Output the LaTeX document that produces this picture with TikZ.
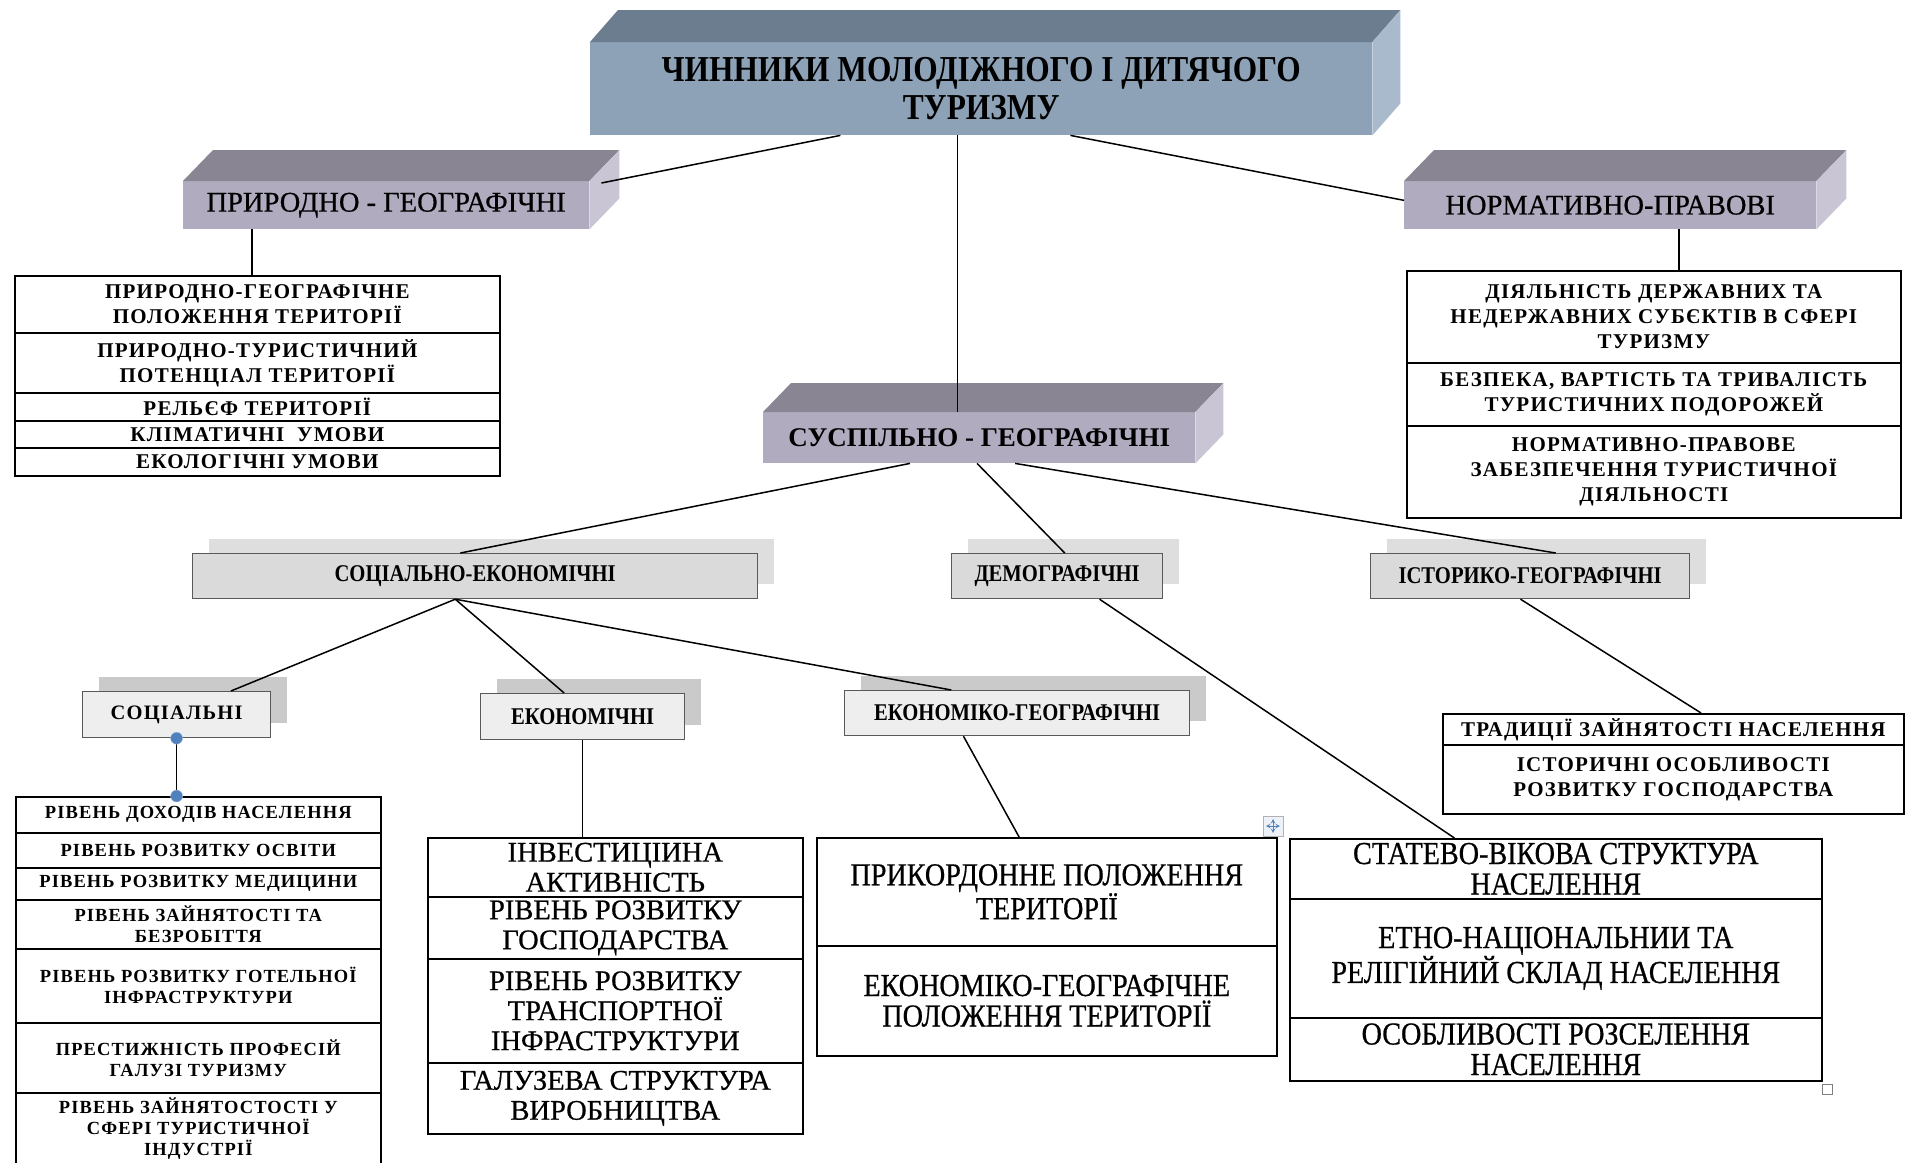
\documentclass[tikz,border=0pt]{standalone}
\usepackage{fontspec}
\setmainfont{Liberation Serif}
\newfontfamily\narrowserif[FakeStretch=0.86]{Liberation Serif}
\newfontfamily\tallserif[FakeStretch=0.88,FakeBold=0.6]{Liberation Serif}
\newfontfamily\heavyserif[FakeBold=0.6]{Liberation Serif}
\newfontfamily\spacedserif[LetterSpace=6]{Liberation Serif}
\usetikzlibrary{calc,positioning,shadows}

\definecolor{titlefront}{HTML}{8DA1B7}
\definecolor{titletop}{HTML}{6C7D90}
\definecolor{titleside}{HTML}{A9BACD}
\definecolor{barfront}{HTML}{B0ABBF}
\definecolor{bartop}{HTML}{8A8592}
\definecolor{barside}{HTML}{C9C5D5}
\definecolor{tabfill}{HTML}{DADADA}
\definecolor{tabshade}{HTML}{DEDEDE}
\definecolor{subfill}{HTML}{EEEEEE}
\definecolor{subshade}{HTML}{CACACA}
\definecolor{handle}{HTML}{4F81BD}

\newcommand{\titlefont}{\narrowserif\bfseries\fontsize{36.5}{38}\selectfont}
\newcommand{\barfont}{\heavyserif\fontsize{28.5}{30}\selectfont}
\newcommand{\tabfont}{\narrowserif\bfseries\fontsize{24}{26}\selectfont}
\newcommand{\smallcellfont}{\spacedserif\bfseries\fontsize{21}{25}\selectfont}
\newcommand{\soccellfont}{\spacedserif\bfseries\fontsize{18.5}{21}\selectfont}
\newcommand{\bigcellfont}{\heavyserif\fontsize{28.5}{30}\selectfont}
\newcommand{\tallcellfont}{\tallserif\fontsize{32}{30.5}\selectfont}

\tikzset{
  face/.style={inner sep=0pt, anchor=north west, font=\barfont},
  tab/.style={draw=black!65, line width=1.2pt, fill=tabfill, inner sep=0pt, anchor=north west, font=\tabfont,
    drop shadow={shadow xshift=16pt, shadow yshift=15pt, fill=tabshade, draw=none, opacity=1}},
  subtab/.style={tab, fill=subfill,
    drop shadow={shadow xshift=16pt, shadow yshift=15pt, fill=subshade, draw=none, opacity=1}},
  cellbox/.style={draw, line width=1.6pt, inner sep=0pt, anchor=north west},
  celltext/.style={align=center, inner sep=0pt},
  link/.style={line width=1.5pt},
  handledot/.style={circle, fill=handle, draw=handle!50!white, minimum size=12pt, inner sep=0pt},
}

% front face is the node, top and side are filled behind it
\newcommand{\cuboid}[5]{%
  \fill[#4] (#1.north west) -- ++(#2,-#3) -- ($(#1.north east)+(#2,-#3)$) -- (#1.north east) -- cycle;
  \fill[#5] (#1.north east) -- ++(#2,-#3) -- ($(#1.south east)+(#2,-#3)$) -- (#1.south east) -- cycle;}

% one row of a table: name, x, y, width, height, text
\newcommand{\tabrow}[6]{%
  \node[cellbox, minimum width=#4, minimum height=#5] (#1) at (#2,#3) {};
  \node[celltext] at (#1.center) {#6};}

\begin{document}
\begin{tikzpicture}[x=1pt,y=-1pt]
\useasboundingbox[fill=white] (0,0) rectangle (1910,1162);

% three-dimensional headers
\node[face, fill=titlefront, minimum width=782, minimum height=93, align=center, font=\titlefont] (top) at (590,42)
  {ЧИННИКИ МОЛОДІЖНОГО І ДИТЯЧОГО\\ТУРИЗМУ};
\cuboid{top}{28}{32}{titletop}{titleside}
\node[face, fill=barfront, minimum width=406, minimum height=48] (pg) at (183,181) {ПРИРОДНО - ГЕОГРАФІЧНІ};
\cuboid{pg}{30}{31}{bartop}{barside}
\node[face, fill=barfront, minimum width=412, minimum height=48] (nr) at (1404,181) {НОРМАТИВНО-ПРАВОВІ};
\cuboid{nr}{30}{31}{bartop}{barside}
\node[face, fill=barfront, minimum width=432, minimum height=51, font=\fontsize{27}{29}\selectfont\bfseries] (sg) at (763,412) {СУСПІЛЬНО - ГЕОГРАФІЧНІ};
\cuboid{sg}{28}{29}{bartop}{barside}

% flat boxes with shadow
\node[tab, minimum width=565, minimum height=45] (se) at (192,553) {СОЦІАЛЬНО-ЕКОНОМІЧНІ};
\node[tab, minimum width=211, minimum height=45] (dm) at (951,553) {ДЕМОГРАФІЧНІ};
\node[tab, minimum width=319, minimum height=45] (ig) at (1370,553) {ІСТОРИКО-ГЕОГРАФІЧНІ};
\node[subtab, minimum width=188, minimum height=46, font=\spacedserif\bfseries\fontsize{20.5}{22}\selectfont] (sc) at (82,691) {СОЦІАЛЬНІ};
\node[subtab, minimum width=204, minimum height=46] (ek) at (480,693) {ЕКОНОМІЧНІ};
\node[subtab, minimum width=345, minimum height=45] (eg) at (844,690) {ЕКОНОМІКО-ГЕОГРАФІЧНІ};

% tables
\begin{scope}[celltext/.append style={font=\smallcellfont}]
\tabrow{pg1}{14}{275}{485}{57}{ПРИРОДНО-ГЕОГРАФІЧНЕ\\ПОЛОЖЕННЯ ТЕРИТОРІЇ}
\tabrow{pg2}{14}{332}{485}{60}{ПРИРОДНО-ТУРИСТИЧНИЙ\\ПОТЕНЦІАЛ ТЕРИТОРІЇ}
\tabrow{pg3}{14}{392}{485}{28}{РЕЛЬЄФ ТЕРИТОРІЇ}
\tabrow{pg4}{14}{420}{485}{27}{КЛІМАТИЧНІ \ УМОВИ}
\tabrow{pg5}{14}{447}{485}{28}{ЕКОЛОГІЧНІ УМОВИ}
\tabrow{nr1}{1406}{270}{494}{92}{ДІЯЛЬНІСТЬ ДЕРЖАВНИХ ТА\\НЕДЕРЖАВНИХ СУБЄКТІВ В СФЕРІ\\ТУРИЗМУ}
\tabrow{nr2}{1406}{362}{494}{63}{БЕЗПЕКА, ВАРТІСТЬ ТА ТРИВАЛІСТЬ\\ТУРИСТИЧНИХ ПОДОРОЖЕЙ}
\tabrow{nr3}{1406}{425}{494}{92}{НОРМАТИВНО-ПРАВОВЕ\\ЗАБЕЗПЕЧЕННЯ ТУРИСТИЧНОЇ\\ДІЯЛЬНОСТІ}
\tabrow{tr1}{1442}{713}{461}{31}{ТРАДИЦІЇ ЗАЙНЯТОСТІ НАСЕЛЕННЯ}
\tabrow{tr2}{1442}{744}{461}{69}{ІСТОРИЧНІ ОСОБЛИВОСТІ\\РОЗВИТКУ ГОСПОДАРСТВА}
\end{scope}
\begin{scope}[celltext/.append style={font=\soccellfont}]
\tabrow{so1}{15}{796}{365}{36}{РІВЕНЬ ДОХОДІВ НАСЕЛЕННЯ}
\tabrow{so2}{15}{832}{365}{35}{РІВЕНЬ РОЗВИТКУ ОСВІТИ}
\tabrow{so3}{15}{867}{365}{32}{РІВЕНЬ РОЗВИТКУ МЕДИЦИНИ}
\tabrow{so4}{15}{899}{365}{49}{РІВЕНЬ ЗАЙНЯТОСТІ ТА\\БЕЗРОБІТТЯ}
\tabrow{so5}{15}{948}{365}{74}{РІВЕНЬ РОЗВИТКУ ГОТЕЛЬНОЇ\\ІНФРАСТРУКТУРИ}
\tabrow{so6}{15}{1022}{365}{70}{ПРЕСТИЖНІСТЬ ПРОФЕСІЙ\\ГАЛУЗІ ТУРИЗМУ}
\tabrow{so7}{15}{1092}{365}{72}{РІВЕНЬ ЗАЙНЯТОСТОСТІ У\\СФЕРІ ТУРИСТИЧНОЇ\\ІНДУСТРІЇ}
\end{scope}
\begin{scope}[celltext/.append style={font=\bigcellfont}]
\tabrow{ec1}{427}{837}{375}{59}{ІНВЕСТИЦІИНА\\АКТИВНІСТЬ}
\tabrow{ec2}{427}{896}{375}{62}{РІВЕНЬ РОЗВИТКУ\\ГОСПОДАРСТВА}
\tabrow{ec3}{427}{958}{375}{104}{РІВЕНЬ РОЗВИТКУ\\ТРАНСПОРТНОЇ\\ІНФРАСТРУКТУРИ}
\tabrow{ec4}{427}{1062}{375}{71}{ГАЛУЗЕВА СТРУКТУРА\\ВИРОБНИЦТВА}
\end{scope}
\begin{scope}[celltext/.append style={font=\tallcellfont}]
\tabrow{eo1}{816}{837}{460}{108}{ПРИКОРДОННЕ ПОЛОЖЕННЯ\\ТЕРИТОРІЇ}
\tabrow{eo2}{816}{945}{460}{110}{ЕКОНОМІКО-ГЕОГРАФІЧНЕ\\ПОЛОЖЕННЯ ТЕРИТОРІЇ}
\tabrow{st1}{1289}{838}{532}{60}{СТАТЕВО-ВІКОВА СТРУКТУРА\\НАСЕЛЕННЯ}
\tabrow{st2}{1289}{898}{532}{119}{ЕТНО-НАЦІОНАЛЬНИИ ТА\\РЕЛІГІЙНИЙ СКЛАД НАСЕЛЕННЯ}
\tabrow{st3}{1289}{1017}{532}{63}{ОСОБЛИВОСТІ РОЗСЕЛЕННЯ\\НАСЕЛЕННЯ}
\end{scope}

% connectors
\draw[link] ($(top.south west)!0.32!(top.south east)$) -- ($(pg.north east)+(12,2)$);
\draw[link] ($(top.south west)!0.614!(top.south east)$) -- ($(nr.north west)!0.4!(nr.south west)$);
\coordinate (c0) at ($(top.south west)!0.47!(top.south east)$);
\draw[link] (c0) -- (c0 |- sg.north);
\coordinate (c1) at ($(pg.south west)!0.17!(pg.south east)$);
\draw[link] (c1) -- (c1 |- pg1.north);
\coordinate (c2) at ($(nr.south west)!0.667!(nr.south east)$);
\draw[link] (c2) -- (c2 |- nr1.north);
\draw[link] ($(sg.south west)!0.34!(sg.south east)$) -- ($(se.north west)!0.474!(se.north east)$);
\draw[link] ($(sg.south west)!0.495!(sg.south east)$) -- ($(dm.north west)!0.536!(dm.north east)$);
\draw[link] ($(sg.south west)!0.583!(sg.south east)$) -- ($(ig.north west)!0.58!(ig.north east)$);
\coordinate (c3) at ($(se.south west)!0.465!(se.south east)$);
\draw[link] (c3) -- ($(sc.north west)!0.787!(sc.north east)$);
\draw[link] (c3) -- ($(ek.north west)!0.41!(ek.north east)$);
\draw[link] (c3) -- ($(eg.north west)!0.31!(eg.north east)$);
\draw[link] ($(dm.south west)!0.7!(dm.south east)$) -- ($(st1.north west)!0.31!(st1.north east)$);
\draw[link] ($(ig.south west)!0.47!(ig.south east)$) -- ($(tr1.north west)!0.56!(tr1.north east)$);
\draw[link] (ek.south) -- (ek.south |- ec1.north);
\draw[link] ($(eg.south west)!0.345!(eg.south east)$) -- ($(eo1.north west)!0.44!(eo1.north east)$);
\draw[link] (sc.south) -- (sc.south |- so1.north);

% editor handles
\node[handledot] (h1) at (sc.south) {};
\node[handledot] (h2) at (sc.south |- so1.north) {};
\node[draw=black!30, fill=handle!10, minimum size=20pt, inner sep=0pt] (mv) at (1273,826) {};
\foreach \d in {(7,0),(-7,0),(0,7),(0,-7)}
  \draw[handle, line width=1pt, -stealth] (mv.center) -- ++\d;
\node[draw=black!50, minimum size=10pt, inner sep=0pt] (rs) at (1827,1089) {};
\end{tikzpicture}
\end{document}
